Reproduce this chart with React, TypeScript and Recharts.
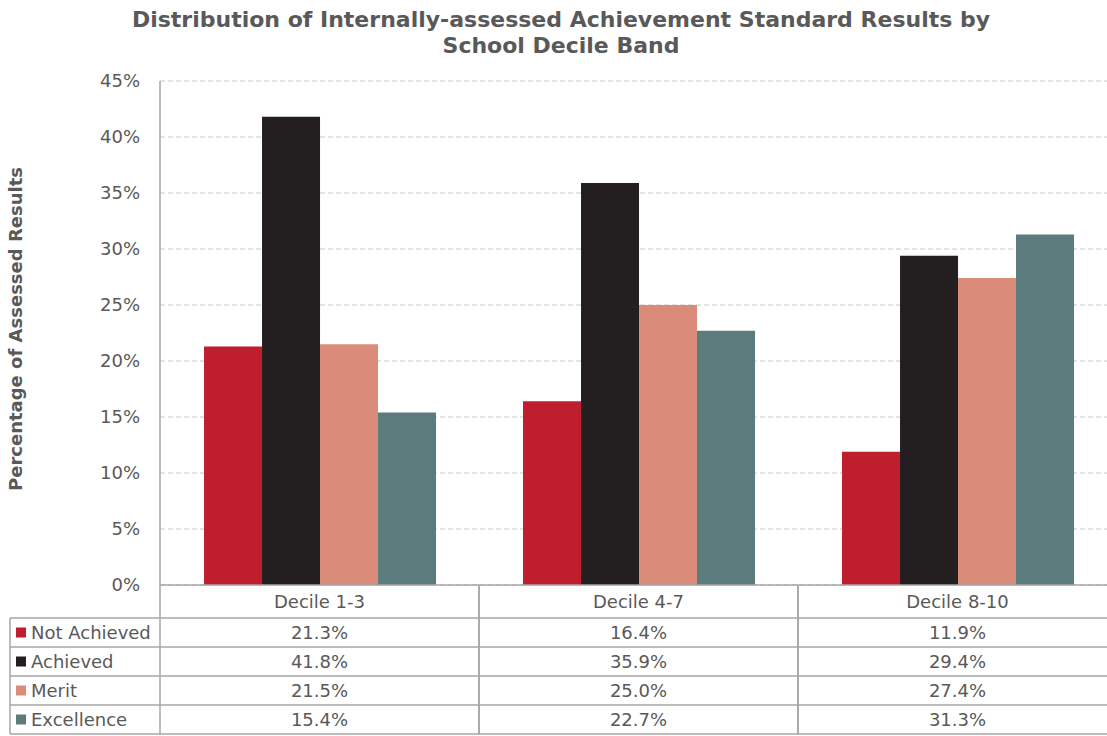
import React from "react";
import { BarChart, Bar, XAxis, YAxis, CartesianGrid } from "recharts";

const deciles = ["Decile 1-3", "Decile 4-7", "Decile 8-10"];
const notAchieved = [21.3, 16.4, 11.9];
const achieved = [41.8, 35.9, 29.4];
const merit = [21.5, 25.0, 27.4];
const excellence = [15.4, 22.7, 31.3];
const yTicks = [0, 5, 10, 15, 20, 25, 30, 35, 40, 45];

const series = [
  { key: "notAchieved", name: "Not Achieved", color: "#BE1E2D", values: notAchieved },
  { key: "achieved", name: "Achieved", color: "#231F20", values: achieved },
  { key: "merit", name: "Merit", color: "#DB8B7A", values: merit },
  { key: "excellence", name: "Excellence", color: "#5C7B7D", values: excellence },
];

const data = deciles.map((d, i) => {
  const row: { [k: string]: number | string } = { decile: d };
  series.forEach((s) => (row[s.key] = s.values[i]));
  return row;
});

const FONT = "Verdana, 'DejaVu Sans', sans-serif";
const TEXT = "#595959";
const LINE = "#a6a6a6";
const CHART_W = 1117;
const CHART_H = 736;
const AXIS_W = 160;
const BAND = (CHART_W - AXIS_W) / deciles.length;
const HEAD_H = 33;
const ROW_H = 29;
const FS = 18;

function TableTick(props: any) {
  const { x, y, payload, index } = props;
  const left = x - BAND / 2;
  const right = x + BAND / 2;
  const bottom = y + HEAD_H + ROW_H * series.length;
  const rowTops = series.map((_, i) => y + HEAD_H + ROW_H * i);
  return (
    <g fontFamily={FONT} fontSize={FS} fill={TEXT}>
      <line x1={left} x2={left} y1={y} y2={bottom} stroke={LINE} strokeWidth={1.5} />
      <line x1={right} x2={right} y1={y} y2={bottom} stroke={LINE} strokeWidth={1.5} />
      <text x={x} y={y + HEAD_H / 2} textAnchor="middle" dominantBaseline="central">
        {payload.value}
      </text>
      {rowTops.map((top, i) => (
        <g key={i}>
          <line x1={left} x2={right} y1={top} y2={top} stroke={LINE} strokeWidth={1.5} />
          <text x={x} y={top + ROW_H / 2} textAnchor="middle" dominantBaseline="central">
            {series[i].values[index].toFixed(1)}%
          </text>
        </g>
      ))}
      <line x1={left} x2={right} y1={bottom} y2={bottom} stroke={LINE} strokeWidth={1.5} />
      {index === 0 && (
        <g>
          <line x1={10} x2={10} y1={rowTops[0]} y2={bottom} stroke={LINE} strokeWidth={1.5} />
          {rowTops.map((top, i) => (
            <g key={i}>
              <line x1={10} x2={left} y1={top} y2={top} stroke={LINE} strokeWidth={1.5} />
              <rect x={16} y={top + ROW_H / 2 - 5} width={10} height={10} fill={series[i].color} />
              <text x={31} y={top + ROW_H / 2} dominantBaseline="central">
                {series[i].name}
              </text>
            </g>
          ))}
          <line x1={10} x2={left} y1={bottom} y2={bottom} stroke={LINE} strokeWidth={1.5} />
        </g>
      )}
    </g>
  );
}

export default function App() {
  return (
    <div style={{ position: "absolute", left: 0, top: 0, width: 1107, height: CHART_H, overflow: "hidden", background: "#fff" }}>
      <div
        style={{
          position: "absolute",
          left: 0,
          top: 7,
          width: 1122,
          textAlign: "center",
          fontFamily: FONT,
          fontWeight: "bold",
          fontSize: 22,
          lineHeight: "26px",
          color: TEXT,
        }}
      >
        Distribution of Internally-assessed Achievement Standard Results by
        <br />
        School Decile Band
      </div>
      <BarChart
        width={CHART_W}
        height={CHART_H}
        data={data}
        margin={{ top: 81, right: 0, left: 0, bottom: 0 }}
        barCategoryGap="13.8%"
        barGap={0}
      >
        <CartesianGrid vertical={false} stroke="#c8c8c8" strokeDasharray="5 3" />
        <YAxis
          width={AXIS_W}
          domain={[0, 45]}
          ticks={yTicks}
          tickFormatter={(v) => `${v}%`}
          tickLine={false}
          tickSize={0}
          tickMargin={20}
          axisLine={{ stroke: LINE, strokeWidth: 1.5 }}
          tick={{ fill: TEXT, fontSize: FS, fontFamily: FONT }}
          label={{
            content: ({ viewBox }: any) => (
              <text
                x={15}
                y={viewBox.y + viewBox.height / 2 - 4}
                transform={`rotate(-90, 15, ${viewBox.y + viewBox.height / 2 - 4})`}
                textAnchor="middle"
                dominantBaseline="central"
                fontFamily={FONT}
                fontWeight="bold"
                fontSize={FS}
                fill={TEXT}
              >
                Percentage of Assessed Results
              </text>
            ),
          }}
        />
        <XAxis
          dataKey="decile"
          height={CHART_H - 585}
          interval={0}
          tickLine={false}
          tickSize={0}
          tickMargin={0}
          axisLine={{ stroke: LINE, strokeWidth: 1.5 }}
          tick={<TableTick />}
        />
        {series.map((s) => (
          <Bar key={s.key} dataKey={s.key} name={s.name} fill={s.color} isAnimationActive={false} />
        ))}
      </BarChart>
    </div>
  );
}
